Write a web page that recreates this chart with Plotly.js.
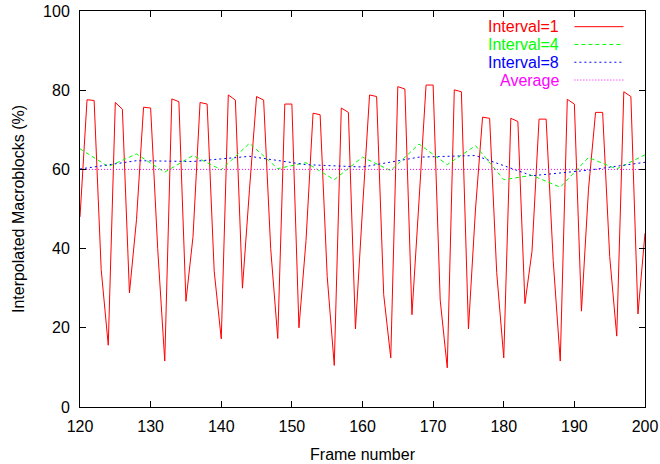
<!DOCTYPE html>
<html>
<head>
<meta charset="utf-8">
<script src="https://cdn.plot.ly/plotly-3.0.1.min.js"></script>
<style>html,body{margin:0;padding:0;background:#fff;}#chart{width:660px;height:464px;}</style>
</head>
<body>
<div id="chart"></div>
<script>
// Frame numbers for Interval=1 (every frame 120..200)
const frames1 = [120,121,122,123,124,125,126,127,128,129,130,131,132,133,134,135,136,137,138,139,140,141,142,143,144,145,146,147,148,149,150,151,152,153,154,155,156,157,158,159,160,161,162,163,164,165,166,167,168,169,170,171,172,173,174,175,176,177,178,179,180,181,182,183,184,185,186,187,188,189,190,191,192,193,194,195,196,197,198,199,200];
const interval1 = [48.0,77.6,77.4,34.7,15.6,76.9,75.2,28.8,47.3,75.7,75.5,40.0,11.6,77.8,77.1,26.7,43.0,76.9,76.5,34.3,17.2,78.8,77.5,30.0,55.0,78.4,77.5,40.0,17.3,76.5,76.5,20.0,42.0,74.2,73.8,33.0,10.5,75.5,74.4,19.7,50.0,78.8,78.4,28.4,12.4,80.9,80.3,23.3,52.0,81.3,81.3,27.0,9.9,80.1,79.6,19.7,50.0,73.2,72.9,34.0,12.4,72.9,72.1,26.1,39.3,72.7,72.7,37.0,11.6,77.7,76.5,24.2,55.0,74.4,74.4,38.0,17.9,79.6,78.4,23.5,43.9];

const frames4 = [120,124,128,132,136,140,144,148,152,156,160,164,168,172,176,180,184,188,192,196,200];
const interval4 = [65.2,60.7,63.9,59.3,63.5,59.9,66.6,60.2,61.7,57.4,63.1,59.7,66.4,61.2,66.0,57.4,58.5,55.5,63.0,60.1,63.7];

const frames8 = [120,128,136,144,152,160,168,176,184,192,200];
const interval8 = [60.1,62.2,62.0,63.3,61.2,60.6,63.1,63.5,58.4,59.8,61.8];

const framesAvg = [120,200];
const average = [60.0,60.0];

const seriesNames = ["Interval=1","Interval=4","Interval=8","Average"];
const seriesColors = ["#ff0000","#00ff00","#0000ff","#ff00ff"];
const seriesDash = ["solid","4px,3px","2px,3px","1px,2px"];

const xs = [frames1, frames4, frames8, framesAvg];
const ys = [interval1, interval4, interval8, average];

const traces = xs.map((x, i) => ({
  x: x, y: ys[i], type: "scatter", mode: "lines", name: seriesNames[i],
  line: {color: seriesColors[i], width: 1, dash: seriesDash[i]},
  showlegend: false, hoverinfo: "skip"
}));

// custom gnuplot-style legend: text on the left, line sample on the right
const legTextX = 0.851, legLine0 = 0.875, legLine1 = 0.962;
const legY = [0.9604, 0.9155, 0.8706, 0.8257];
const annotations = seriesNames.map((n, i) => ({
  xref: "paper", yref: "paper", x: legTextX, y: legY[i], xanchor: "right", yanchor: "middle",
  text: n, showarrow: false, font: {family: "Liberation Sans, Arial, sans-serif", size: 16, color: seriesColors[i]}
}));
const shapes = seriesNames.map((n, i) => ({
  type: "line", xref: "paper", yref: "paper", x0: legLine0, x1: legLine1, y0: legY[i], y1: legY[i],
  line: {color: seriesColors[i], width: 1, dash: seriesDash[i]}
}));

const axisCommon = {
  showline: true, linecolor: "#000", linewidth: 1, mirror: "ticks",
  ticks: "inside", ticklen: 6, tickcolor: "#000", tickwidth: 1,
  showgrid: false, zeroline: false,
  tickfont: {family: "Liberation Sans, Arial, sans-serif", size: 16, color: "#000"}
};

const layout = {
  width: 660, height: 464,
  margin: {l: 80, r: 15, t: 11, b: 57, pad: 0},
  paper_bgcolor: "#fff", plot_bgcolor: "#fff",
  showlegend: false,
  xaxis: Object.assign({}, axisCommon, {
    range: [120, 200], dtick: 10, tick0: 120, ticklabelstandoff: 5,
    title: {text: "Frame number", font: {family: "Liberation Sans, Arial, sans-serif", size: 16, color: "#000"}, standoff: 14}
  }),
  yaxis: Object.assign({}, axisCommon, {
    range: [0, 100], dtick: 20, tick0: 0, ticklabelstandoff: 6,
    title: {text: "Interpolated Macroblocks (%)", font: {family: "Liberation Sans, Arial, sans-serif", size: 16, color: "#000"}, standoff: 14}
  }),
  annotations: annotations,
  shapes: shapes
};

Plotly.newPlot("chart", traces, layout, {displayModeBar: false, staticPlot: true});
</script>
</body>
</html>
